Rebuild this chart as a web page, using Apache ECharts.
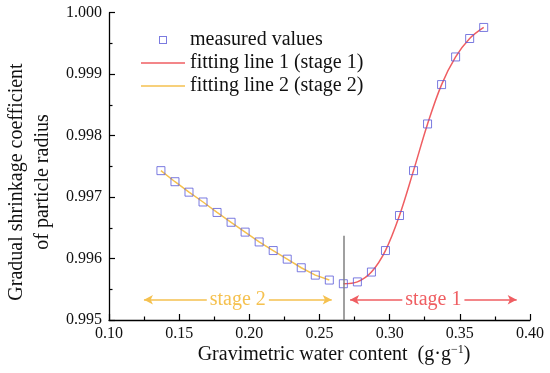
<!DOCTYPE html>
<html>
<head>
<meta charset="utf-8">
<script src="https://cdn.jsdelivr.net/npm/echarts@6/dist/echarts.min.js"></script>
<style>html,body{margin:0;padding:0;background:#fff}#c{width:550px;height:373px}</style>
</head>
<body>
<div id="c"></div>
<script>
// Gravimetric water content (g/g)
var waterContent = [0.137, 0.147, 0.157, 0.167, 0.177, 0.187, 0.197, 0.207, 0.217, 0.227, 0.237, 0.247, 0.257,
                    0.267, 0.277, 0.287, 0.297, 0.307, 0.317, 0.327, 0.337, 0.347, 0.357, 0.367];
// Gradual shrinkage coefficient of particle radius
var measured = [0.99743, 0.99725, 0.99708, 0.99692, 0.99675, 0.99659, 0.99643, 0.99627, 0.99613, 0.99599, 0.99585, 0.99573, 0.99565,
                0.99559, 0.99562, 0.99578, 0.99613, 0.99670, 0.99743, 0.99819, 0.99883, 0.99928, 0.99958, 0.99976];
var stage2X = [0.137, 0.147, 0.157, 0.167, 0.177, 0.187, 0.197, 0.207, 0.217, 0.227, 0.237, 0.247, 0.257];
var stage2Fit = [0.99743, 0.99725, 0.99708, 0.99692, 0.99675, 0.99659, 0.99643, 0.99627, 0.99613, 0.99599, 0.99585, 0.99573, 0.99565];
var stage1X = [0.267, 0.277, 0.287, 0.297, 0.307, 0.317, 0.327, 0.337, 0.347, 0.357, 0.367];
var stage1Fit = [0.99559, 0.99562, 0.99578, 0.99613, 0.99670, 0.99743, 0.99819, 0.99883, 0.99928, 0.99958, 0.99976];
var xTicks = [0.10, 0.15, 0.20, 0.25, 0.30, 0.35, 0.40];
var yTicks = [0.995, 0.996, 0.997, 0.998, 0.999, 1.000];
var boundaryX = 0.267, boundaryTop = 0.99637;
var arrowY = 0.99533;
var stage2Range = [0.1249, 0.2587];
var stage1Range = [0.2718, 0.3905];
var seriesNames = ['measured values', 'fitting line 1 (stage 1)', 'fitting line 2 (stage 2)'];

var BLUE = '#5a5ad8', RED = '#ef5e62', YEL = '#f5c14f';
var FONT = 'Liberation Serif';

function zip(a, b) { return a.map(function (v, i) { return [v, b[i]]; }); }

function arrowMarkLine(range, color, text) {
  return {
    silent: true, animation: false,
    symbol: ['arrow', 'arrow'], symbolSize: [7, 9],
    lineStyle: { color: color, width: 1.5, type: 'solid', opacity: 1 },
    emphasis: { disabled: true },
    label: { show: true, position: 'middle', distance: 0, verticalAlign: 'middle', formatter: text, color: color,
             fontFamily: FONT, fontSize: 20, backgroundColor: '#fff', padding: [1, 3] },
    data: [[{ coord: [range[0], arrowY] }, { coord: [range[1], arrowY] }]]
  };
}

var chart = echarts.init(document.getElementById('c'), null, { renderer: 'canvas' });
chart.setOption({
  animation: false,
  backgroundColor: '#fff',
  textStyle: { fontFamily: FONT },
  grid: { left: 109, right: 20, top: 12.7, bottom: 53 },
  legend: {
    orient: 'vertical', left: 136, top: 25,
    itemWidth: 44, itemHeight: 8, itemGap: 3, itemTextGap: 5,
    symbolKeepAspect: true,
    textStyle: { fontFamily: FONT, fontSize: 20, color: '#111' },
    data: [
      { name: seriesNames[0], icon: 'path://M0,0H8V8H0Z M1,1V7H7V1Z', itemStyle: { color: BLUE, borderWidth: 0 } },
      { name: seriesNames[1], icon: 'path://M0,0H44V1.5H0Z', itemStyle: { color: RED, borderWidth: 0 } },
      { name: seriesNames[2], icon: 'path://M0,0H44V1.5H0Z', itemStyle: { color: YEL, borderWidth: 0 } }
    ]
  },
  xAxis: {
    type: 'value', min: xTicks[0], max: xTicks[xTicks.length - 1], interval: 0.05,
    axisLine: { lineStyle: { color: '#000', width: 1.3 } },
    axisTick: { inside: true, length: 6, lineStyle: { color: '#000', width: 1.2 } },
    minorTick: { show: true, splitNumber: 2, length: 3.5, lineStyle: { color: '#000', width: 1.2 } },
    splitLine: { show: false },
    axisLabel: { color: '#111', fontFamily: FONT, fontSize: 16, margin: 6, formatter: function (v) { return v.toFixed(2); } }
  },
  yAxis: {
    type: 'value', min: yTicks[0], max: yTicks[yTicks.length - 1], interval: 0.001,
    axisLine: { show: true, lineStyle: { color: '#000', width: 1.3 } },
    axisTick: { show: true, inside: true, length: 6, lineStyle: { color: '#000', width: 1.2 } },
    minorTick: { show: true, splitNumber: 2, length: 3.5, lineStyle: { color: '#000', width: 1.2 } },
    splitLine: { show: false },
    axisLabel: { color: '#111', fontFamily: FONT, fontSize: 16, margin: 7, formatter: function (v) { return v.toFixed(3); } }
  },
  graphic: [
    {
      type: 'text', x: 30, y: 182, rotation: Math.PI / 2,
      style: { text: 'Gradual shrinkage coefficient\nof particle radius', font: '20px "Liberation Serif"', fill: '#111',
               textAlign: 'center', textVerticalAlign: 'middle', lineHeight: 26 }
    },
    {
      type: 'text', x: 334, y: 355,
      style: {
        text: '{a|Gravimetric water content  (g·g}{s|−1}{a|)}',
        textAlign: 'center', textVerticalAlign: 'middle', fill: '#111',
        rich: {
          a: { fontFamily: FONT, fontSize: 20, lineHeight: 22, fill: '#111' },
          s: { fontFamily: FONT, fontSize: 12, verticalAlign: 'top', lineHeight: 12, fill: '#111' }
        }
      }
    }
  ],
  series: [
    {
      name: seriesNames[2], type: 'line', data: zip(stage2X, stage2Fit), symbol: 'none',
      lineStyle: { color: YEL, width: 1.5 }, itemStyle: { color: YEL }, z: 2,
      markLine: arrowMarkLine(stage2Range, YEL, 'stage 2')
    },
    {
      name: seriesNames[1], type: 'line', data: zip(stage1X, stage1Fit), symbol: 'none', smooth: 0.35,
      lineStyle: { color: RED, width: 1.5 }, itemStyle: { color: RED }, z: 2,
      markLine: arrowMarkLine(stage1Range, RED, 'stage 1')
    },
    {
      name: seriesNames[0], type: 'scatter', data: zip(waterContent, measured),
      symbol: 'rect', symbolSize: 8,
      itemStyle: { color: 'transparent', borderColor: BLUE, borderWidth: 1 }, z: 3,
      markLine: {
        silent: true, animation: false, symbol: 'none',
        lineStyle: { color: '#808080', width: 1.5, type: 'solid' },
        label: { show: false },
        data: [[{ coord: [boundaryX, boundaryTop] }, { coord: [boundaryX, yTicks[0]] }]]
      }
    }
  ]
});
</script>
</body>
</html>
